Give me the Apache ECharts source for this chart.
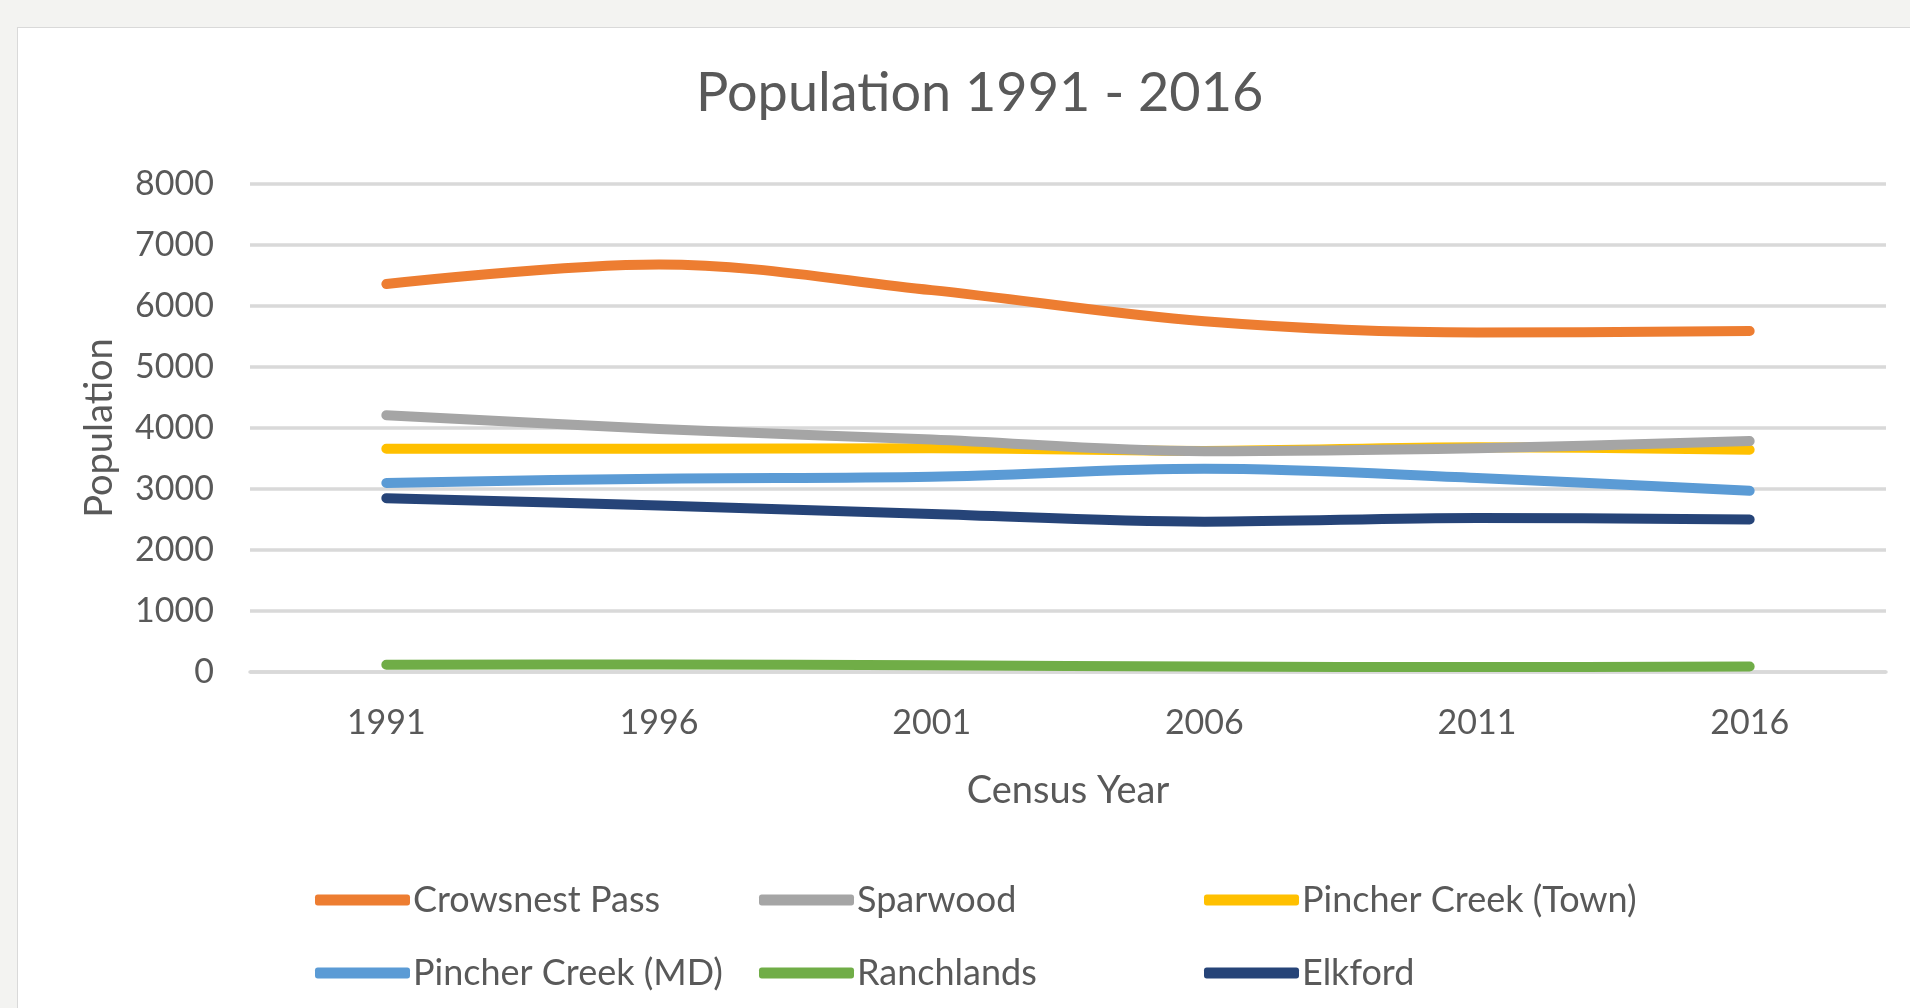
<!DOCTYPE html>
<html>
<head>
<meta charset="utf-8">
<title>Population 1991 - 2016</title>
<script src="https://cdn.jsdelivr.net/npm/echarts@6/dist/echarts.min.js"></script>
<style>
    html, body { margin: 0; padding: 0; background: #f3f3f1; overflow: hidden; }
    #card { position: absolute; left: 17px; top: 27px; right: -2px; bottom: -2px; background: #fff; border: 1px solid #d9d9d9; }
    #chart { position: absolute; left: 0; top: 0; width: 1910px; height: 1008px; }
</style>
</head>
<body>
<div id="card"></div>
<div id="chart"></div>
<script>
var years = ['1991', '1996', '2001', '2006', '2011', '2016'];
var yTicks = [0, 1000, 2000, 3000, 4000, 5000, 6000, 7000, 8000];

var crowsnestPass = [6360, 6680, 6260, 5750, 5565, 5590];
var sparwood = [4210, 3985, 3810, 3620, 3670, 3785];
var pincherTown = [3660, 3660, 3670, 3625, 3685, 3645];
var pincherMD = [3100, 3170, 3200, 3330, 3180, 2970];
var ranchlands = [120, 125, 110, 90, 80, 90];
var elkford = [2850, 2730, 2590, 2465, 2525, 2500];

var seriesNames = ['Crowsnest Pass', 'Sparwood', 'Pincher Creek (Town)', 'Pincher Creek (MD)', 'Ranchlands', 'Elkford'];
var seriesData = [crowsnestPass, sparwood, pincherTown, pincherMD, ranchlands, elkford];
var seriesColors = ['#ED7D31', '#A5A5A5', '#FFC000', '#5B9BD5', '#70AD47', '#264478'];

var font = 'Lato, "Open Sans", sans-serif';
var textColor = '#595959';

// legend slots: two rows, three columns
var legendPos = [[315, 882], [759, 882], [1204, 882], [315, 955], [759, 955], [1204, 955]];

var chart = echarts.init(document.getElementById('chart'));

var legends = [];
var series = [];
for (var i = 0; i < seriesNames.length; i++) {
    legends.push({
        left: legendPos[i][0],
        top: legendPos[i][1],
        height: 40,
        data: [seriesNames[i]],
        icon: 'roundRect',
        itemWidth: 95,
        itemHeight: 11,
        padding: 0,
        selectedMode: false,
        textStyle: { fontFamily: font, fontSize: 36, color: textColor, padding: [0, 0, 0, -2] }
    });
    series.push({
        name: seriesNames[i],
        type: 'line',
        data: seriesData[i],
        smooth: 0.35,
        showSymbol: false,
        color: seriesColors[i],
        lineStyle: { width: 10, color: seriesColors[i], cap: 'round', join: 'round' },
        z: 10 - i
    });
}

var option = {
    animation: false,
    title: {
        text: 'Population 1991 - 2016',
        left: 691,
        top: 62,
        textStyle: { fontFamily: font, fontSize: 54, fontWeight: 'normal', color: textColor }
    },
    legend: legends,
    grid: { left: 250, right: 24, top: 184, bottom: 336 },
    xAxis: {
        type: 'category',
        data: years,
        boundaryGap: true,
        name: 'Census Year',
        nameLocation: 'middle',
        nameGap: 100,
        nameTextStyle: { fontFamily: font, fontSize: 38, color: textColor },
        axisLine: { show: true, lineStyle: { color: '#D9D9D9', width: 3.5 } },
        axisTick: { show: false },
        axisLabel: { fontFamily: font, fontSize: 34, color: textColor, margin: 34 }
    },
    yAxis: {
        type: 'value',
        min: yTicks[0],
        max: yTicks[yTicks.length - 1],
        interval: 1000,
        name: 'Population',
        nameLocation: 'middle',
        nameGap: 131,
        nameTextStyle: { fontFamily: font, fontSize: 38, color: textColor },
        axisLine: { show: false },
        axisTick: { show: false },
        axisLabel: {
            fontFamily: font, fontSize: 34, color: textColor, margin: 36,
            formatter: function (v) { return String(v); }
        },
        splitLine: { lineStyle: { color: '#D9D9D9', width: 3.5 } }
    },
    series: series
};

chart.setOption(option);
</script>
</body>
</html>
